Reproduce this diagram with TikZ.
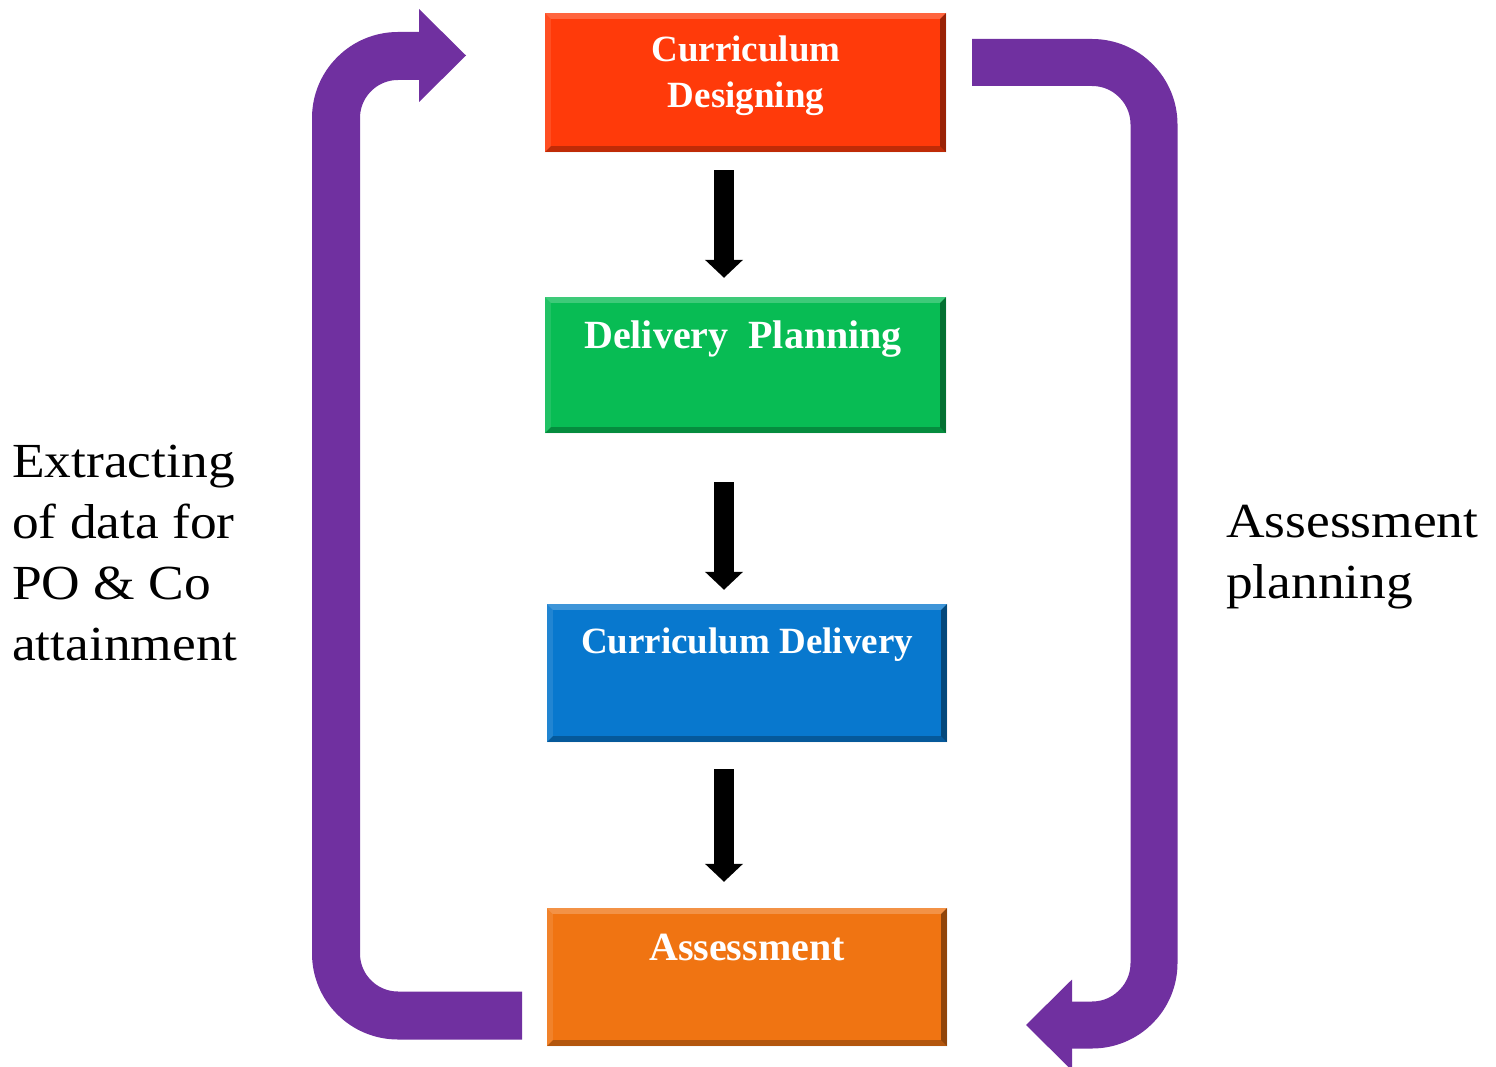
\documentclass[tikz,border=0pt]{standalone}
\usepackage{fontspec}
\setmainfont{Liberation Serif}
\newfontfamily\widefont[FakeStretch=1.09]{Liberation Serif}
\usetikzlibrary{arrows.meta}
\definecolor{cdred}{RGB}{255,58,10}
\definecolor{dpgreen}{RGB}{8,188,84}
\definecolor{cdblue}{RGB}{8,120,206}
\definecolor{asorange}{RGB}{240,116,18}
\definecolor{looppurple}{RGB}{112,48,160}
\newcommand\drawbevel[1]{%
  \fill[white,opacity=0.22] (#1.north west) -- (#1.north east) -- ([xshift=-6pt,yshift=-6pt]#1.north east) -- ([xshift=6pt,yshift=-6pt]#1.north west) -- cycle;
  \fill[white,opacity=0.10] (#1.north west) -- ([xshift=6pt,yshift=-6pt]#1.north west) -- ([xshift=6pt,yshift=6pt]#1.south west) -- (#1.south west) -- cycle;
  \fill[black,opacity=0.25] (#1.south west) -- ([xshift=6pt,yshift=6pt]#1.south west) -- ([xshift=-6pt,yshift=6pt]#1.south east) -- (#1.south east) -- cycle;
  \fill[black,opacity=0.40] (#1.south east) -- ([xshift=-6pt,yshift=6pt]#1.south east) -- ([xshift=-6pt,yshift=-6pt]#1.north east) -- (#1.north east) -- cycle;
}
\begin{document}
\begin{tikzpicture}[x=1pt,y=-1pt,
  stagebox/.style={inner sep=0pt, minimum width=401pt, minimum height=138pt, fill=#1},
  boxtext/.style={text=white, font=\bfseries\fontsize{37}{46}\selectfont, align=center, inner sep=0pt, anchor=base},
  sidetext/.style={text=black, font=\widefont\fontsize{49}{61}\selectfont, align=left, inner sep=0pt, anchor=base west},
  loopline/.style={draw=looppurple, line width=#1, rounded corners=62pt},
  loophead/.style={fill=looppurple},
  downarrow/.style={line width=20pt, -{Triangle[width=37pt,length=18pt]}}]
\useasboundingbox (0,0) rectangle (1496,1067);

% stage boxes
\node[stagebox=cdred, minimum height=139pt] (cd) at (745.5,82.5) {};
\node[stagebox=dpgreen, minimum height=136pt] (dp) at (745.5,365) {};
\node[stagebox=cdblue, minimum width=400pt] (cdl) at (747,673) {};
\node[stagebox=asorange, minimum width=400pt] (as) at (747,977) {};
\drawbevel{cd}\drawbevel{dp}\drawbevel{cdl}\drawbevel{as}

\node[boxtext] (cdt) at (746,108) {Curriculum\\Designing};
\node[boxtext, font=\bfseries\fontsize{40}{46}\selectfont] (dpt) at (743,348) {Delivery\ \ Planning};
\node[boxtext] (cdlt) at (747,653) {Curriculum Delivery};
\node[boxtext, font=\bfseries\fontsize{40}{46}\selectfont] (ast) at (747,960) {Assessment};

% black arrows
\draw[downarrow] ([xshift=-21.5pt,yshift=-18pt]cd.south) -- ([xshift=-21.5pt,yshift=19pt]dp.north);
\draw[downarrow] ([xshift=-21.5pt,yshift=-49pt]dp.south) -- ([xshift=-23pt,yshift=14pt]cdl.north);
\draw[downarrow] ([xshift=-23pt,yshift=-27pt]cdl.south) -- ([xshift=-23pt,yshift=26pt]as.north);

% left loop: from Assessment back to Curriculum Designing
\coordinate (lstart) at (522,1015.5);
\coordinate (lbl) at (336,1015.5);
\coordinate (ltl) at (336,56);
\coordinate (lend) at (420,56);
\coordinate (lh1) at (419,9);
\coordinate (ltip) at (466,55.5);
\coordinate (lh2) at (419,102);
\draw[loopline=48pt] (lstart) -- (lbl) -- (ltl) -- (lend);
\fill[loophead] (lh1) -- (ltip) -- (lh2) -- cycle;

% right loop: from Curriculum Designing to Assessment
\coordinate (rstart) at (972,62.5);
\coordinate (rtr) at (1154,62.5);
\coordinate (rbr) at (1154,1025);
\coordinate (rend) at (1071,1025);
\coordinate (rh1) at (1072,979.5);
\coordinate (rtip) at (1026,1025);
\coordinate (rh2) at (1072,1070.5);
\draw[loopline=47pt] (rstart) -- (rtr) -- (rbr) -- (rend);
\fill[loophead] (rh1) -- (rtip) -- (rh2) -- cycle;

% side labels
\node[sidetext] (lefttext) at (12,660) {Extracting\\of data for\\PO \& Co\\attainment};
\node[sidetext] (righttext) at (1226,598) {Assessment\\planning};
\end{tikzpicture}
\end{document}
